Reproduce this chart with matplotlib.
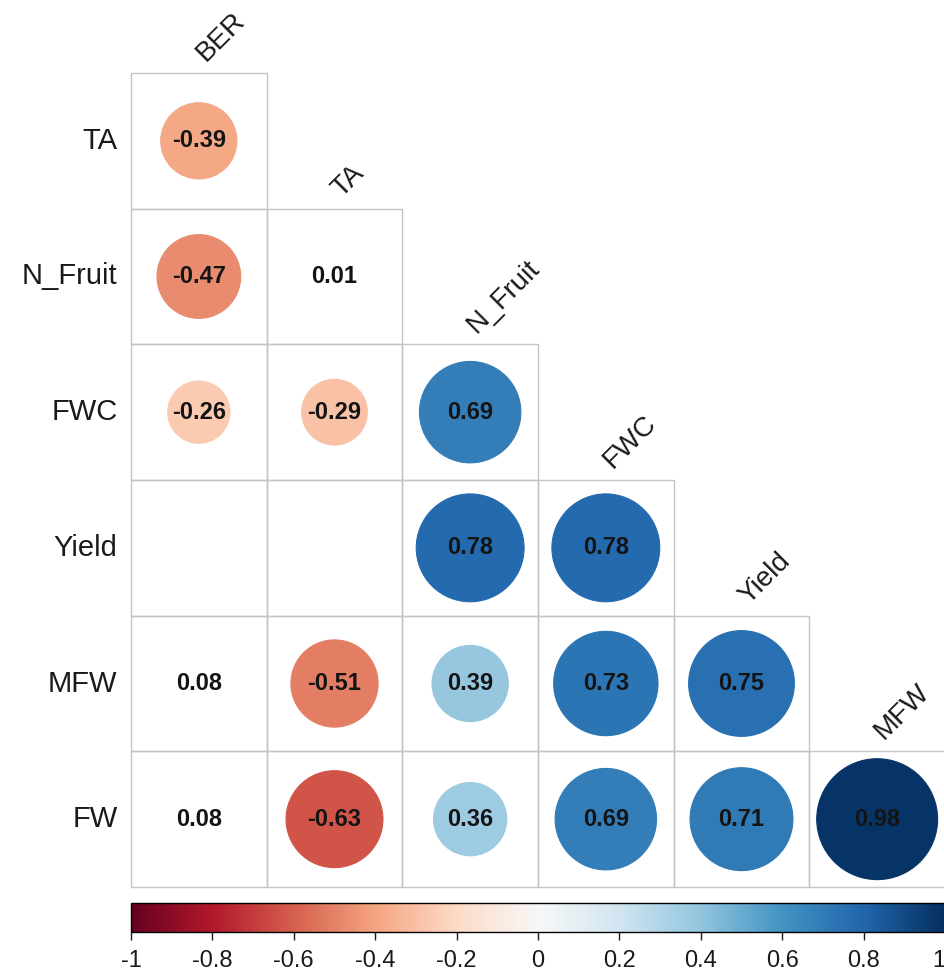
import numpy as np
import matplotlib
matplotlib.use("Agg")
import matplotlib.pyplot as plt
from matplotlib.patches import Circle, Rectangle
from matplotlib.colors import Normalize

plt.rcParams["font.family"] = ["Liberation Sans", "DejaVu Sans"]

# Variable names (rows and columns of the lower-triangular correlation matrix)
row_labels = ["TA", "N_Fruit", "FWC", "Yield", "MFW", "FW"]
col_labels = ["BER", "TA", "N_Fruit", "FWC", "Yield", "MFW"]

# Correlation coefficients, one list per row (None = blank cell)
r_TA = [-0.39]
r_N_Fruit = [-0.47, 0.01]
r_FWC = [-0.26, -0.29, 0.69]
r_Yield = [None, None, 0.78, 0.78]
r_MFW = [0.08, -0.51, 0.39, 0.73, 0.75]
r_FW = [0.08, -0.63, 0.36, 0.69, 0.71, 0.98]
corr_rows = [r_TA, r_N_Fruit, r_FWC, r_Yield, r_MFW, r_FW]

# Cells whose coefficient is printed without a circle
text_only = {("N_Fruit", "TA"), ("MFW", "BER"), ("FW", "BER")}

cbar_ticks = [-1, -0.8, -0.6, -0.4, -0.2, 0, 0.2, 0.4, 0.6, 0.8, 1]
cbar_ticklabels = ["-1", "-0.8", "-0.6", "-0.4", "-0.2", "0", "0.2", "0.4", "0.6", "0.8", "1"]

cmap = plt.get_cmap("RdBu")
norm = Normalize(vmin=-1, vmax=1)

W, H = 945, 975
fig = plt.figure(figsize=(W / 100, H / 100), dpi=100)

# Matrix panel
x0, x1 = 131, 945
y0, y1 = 73, 887
ax = fig.add_axes([x0 / W, 1 - y1 / H, (x1 - x0) / W, (y1 - y0) / H])
n = len(col_labels)
ax.set_xlim(0, n)
ax.set_ylim(n, 0)
ax.axis("off")

grid_color = "#c4c4c4"
for i, (rname, vals) in enumerate(zip(row_labels, corr_rows)):
    for j, v in enumerate(vals):
        ax.add_patch(Rectangle((j, i), 1, 1, fill=False, edgecolor=grid_color,
                               linewidth=1.0, zorder=1, clip_on=False))
        if v is None:
            continue
        cx, cy = j + 0.5, i + 0.5
        if (rname, col_labels[j]) not in text_only:
            col = cmap(norm(v))
            ax.add_patch(Circle((cx, cy), 0.45 * np.sqrt(abs(v)), facecolor=col,
                                edgecolor=col, linewidth=0.8, zorder=2, clip_on=False))
        ax.text(cx, cy, f"{v:.2f}", ha="center", va="center", fontsize=17,
                fontweight="bold", color="#141414", zorder=3)

# Row labels on the left
for i, name in enumerate(row_labels):
    ax.text(-0.1, i + 0.5, name, ha="right", va="center", fontsize=21,
            color="#1a1a1a")

# Rotated column labels above the diagonal cells
for j, name in enumerate(col_labels):
    ax.text(j + 0.55, j - 0.08, name, ha="left", va="baseline", rotation=45,
            rotation_mode="anchor", fontsize=20, color="#1a1a1a", clip_on=False)

# Colour legend
cy0, cy1 = 903, 932
cax = fig.add_axes([x0 / W, 1 - cy1 / H, (x1 - x0) / W, (cy1 - cy0) / H])
sm = matplotlib.cm.ScalarMappable(norm=norm, cmap=cmap)
cb = fig.colorbar(sm, cax=cax, orientation="horizontal")
cb.set_ticks(cbar_ticks)
cb.set_ticklabels(cbar_ticklabels)
cb.outline.set_linewidth(1.0)
cax.tick_params(axis="x", length=6, width=1, labelsize=17, colors="#1a1a1a", pad=7)
# keep the end labels inside the canvas
tls = cax.get_xticklabels()
tls[-1].set_horizontalalignment("right")

fig.savefig("out.png", dpi=100)
